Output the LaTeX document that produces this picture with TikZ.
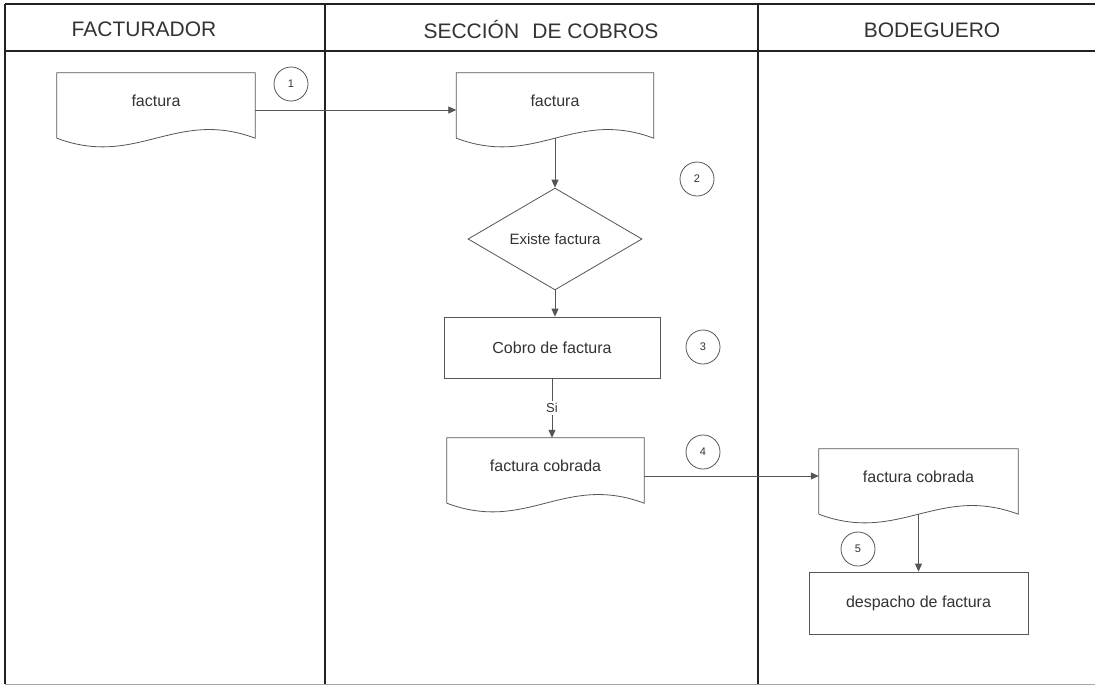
\documentclass[tikz,border=0pt]{standalone}
\usepackage{fontspec}
\setmainfont{Liberation Sans}
\usetikzlibrary{arrows.meta,shapes.geometric}
\definecolor{ink}{HTML}{333333}
\definecolor{lanecol}{HTML}{222222}
\definecolor{shpcol}{HTML}{555555}
\newcommand\docoutline[1]{%
  \draw[docline] ([yshift=-9pt]#1.south west) -- (#1.north west) -- (#1.north east) -- ([yshift=-9pt]#1.south east)
    .. controls ([xshift=-80pt,yshift=21pt]#1.south east) and ([xshift=80pt,yshift=-39pt]#1.south west) .. ([yshift=-9pt]#1.south west);}
\begin{document}
\begin{tikzpicture}[x=1pt,y=-1pt,
  lanel/.style={draw=lanecol,line width=1.3pt},
  hdr/.style={font=\fontsize{21}{24}\selectfont,text=ink},
  docnode/.style={minimum height=56pt,inner sep=0pt,font=\fontsize{16}{19}\selectfont,text=ink},
  docline/.style={draw=shpcol,line width=0.8pt},
  procbox/.style={draw=shpcol,line width=0.8pt,inner sep=0pt,font=\fontsize{16}{19}\selectfont,text=ink},
  decision/.style={diamond,draw=shpcol,line width=0.8pt,inner sep=0pt,font=\fontsize{15}{18}\selectfont,text=ink},
  num/.style={circle,draw=shpcol,line width=0.8pt,minimum size=34pt,inner sep=0pt,font=\fontsize{11}{13}\selectfont,text=ink},
  flow/.style={draw=shpcol,line width=0.8pt,-{Triangle[length=8pt,width=7pt]}},
]
\fill[white] (0,0) rectangle (1095,686);
\useasboundingbox (0,0) rectangle (1095,686);
% lanes
\draw[lanel] (5,4) -- (1095,4);
\draw[lanel] (5,51) -- (1095,51);
\draw[lanel] (5,4) -- (5,684);
\draw[lanel] (325,4) -- (325,684);
\draw[lanel] (758,4) -- (758,684);
\draw[draw=gray!70,line width=1pt] (5,684) -- (1095,684);
% headers
\node[hdr] (h1) at (144,29) {FACTURADOR};
\node[hdr] (h2) at (541,29) {SECCIÓN\hspace{0.35em} DE COBROS};
\node[hdr] (h3) at (932,30) {BODEGUERO};
% documents
\node[docnode,minimum width=198pt] (d1) at (156,101) {factura};
\node[docnode,minimum width=197pt] (d2) at (555,101) {factura};
\node[docnode,minimum width=197pt] (d3) at (545.5,466) {factura cobrada};
\node[docnode,minimum width=199pt] (d4) at (918.5,477) {factura cobrada};
\docoutline{d1}
\docoutline{d2}
\docoutline{d3}
\docoutline{d4}
% decision and processes
\node[decision,minimum width=174pt,minimum height=98pt] (q) at (555,239) {Existe factura};
\node[procbox,minimum width=216pt,minimum height=61pt] (r1) at (552,347.5) {Cobro de factura};
\node[procbox,minimum width=219pt,minimum height=62pt] (r2) at (918.5,603) {despacho de factura};
% step numbers
\node[num] (c1) at (291,84) {1};
\node[num] (c2) at (697,179) {2};
\node[num] (c3) at (703,347) {3};
\node[num] (c4) at (703,452) {4};
\node[num] (c5) at (858,549) {5};
% connectors
\draw[flow] ([yshift=-9pt]d1.east) -- ([yshift=-9pt]d2.west);
\draw[flow] ([yshift=-9pt]d2.south) -- (q.north);
\draw[flow] (q.south) -- (q.south |- r1.north);
\draw[flow] (r1.south) -- node[fill=white,inner sep=2pt,font=\fontsize{13}{15}\selectfont,text=ink] (si) {Si} (r1.south |- d3.north);
\draw[flow] ([yshift=-10pt]d3.east) -- ([yshift=-10pt]d3.east -| d4.west);
\draw[flow] ([yshift=-9pt]d4.south) -- (r2.north);
\end{tikzpicture}
\end{document}
